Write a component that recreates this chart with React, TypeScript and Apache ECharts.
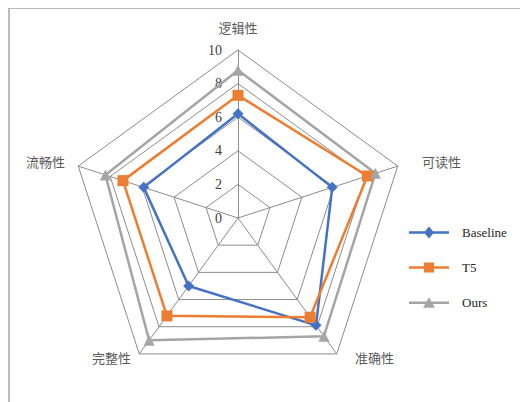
import React, { useEffect, useRef } from "react";
import * as echarts from "echarts";

const indicators = ["逻辑性", "流畅性", "完整性", "准确性", "可读性"];
const tickMax = 10;
const seriesNames = ["Baseline", "T5", "Ours"];
// values ordered like indicators (counterclockwise from top)
const baseline = [6.2, 5.9, 5.0, 7.9, 5.9];
const t5 = [7.3, 7.2, 7.2, 7.3, 8.1];
const ours = [8.8, 8.3, 9.0, 8.7, 8.6];

const colors = ["#4472C4", "#ED7D31", "#A5A5A5"];
const symbols = ["diamond", "rect", "triangle"];
const legendIcons = [
  "path://M0 4.75H40V7.25H0Z M20 0L25 6L20 12L15 6Z",
  "path://M0 4.75H40V7.25H0Z M15 1H25V11H15Z",
  "path://M0 4.75H40V7.25H0Z M20 0.5L26 11H14Z",
];

const nameTweaks = [
  { nameGap: 16 },
  { nameGap: 14 },
  { nameGap: 4, nameTextStyle: { padding: [0, 6, 0, 0] } },
  { nameGap: 4, nameTextStyle: { padding: [0, 0, 0, 16] } },
  { nameGap: 14, nameTextStyle: { padding: [0, 0, 0, 11] } },
];

export default function App() {
  const ref = useRef<HTMLDivElement>(null);
  useEffect(() => {
    if (!ref.current) return;
    const chart = echarts.init(ref.current, undefined, { renderer: "svg" });
    const values = [baseline, t5, ours];
    chart.setOption({
      animation: false,
      graphic: [
        {
          type: "rect",
          shape: { x: 1, y: 0, width: 700, height: 700 },
          style: { fill: "none", stroke: "#a6a6a6", lineWidth: 1.5 },
          silent: true,
        },
      ],
      legend: {
        orient: "vertical",
        left: 396,
        top: 213,
        itemWidth: 40,
        itemHeight: 12,
        itemGap: 22,
        data: seriesNames.map((name, i) => ({
          name,
          icon: legendIcons[i],
          itemStyle: { color: colors[i] },
        })),
        textStyle: {
          fontFamily: "Liberation Serif",
          fontSize: 13,
          color: "#262626",
          padding: [0, 0, 0, 8],
        },
      },
      radar: {
        center: [230, 210],
        radius: 168,
        startAngle: 90,
        splitNumber: 5,
        shape: "polygon",
        indicator: indicators.map((name, i) => ({
          name,
          min: 0,
          max: tickMax,
          ...nameTweaks[i],
          ...(i === 0 ? { axisLabel: { show: true } } : {}),
        })),
        axisName: {
          color: "#595959",
          fontFamily: "Noto Sans CJK SC",
          fontSize: 13,
        },
        nameGap: 14,
        axisLine: { lineStyle: { color: "#8c8c8c", width: 1 } },
        splitLine: { lineStyle: { color: "#8c8c8c", width: 1 } },
        splitArea: { show: false },
        axisTick: { show: false },
        axisLabel: {
          show: false,
          margin: 16,
          fontFamily: "Liberation Serif",
          fontSize: 14,
          color: "#404040",
          padding: [5, 0, 0, 0],
        },
      },
      series: [
        {
          type: "radar",
          data: seriesNames.map((name, i) => ({
            name,
            value: values[i],
            symbol: symbols[i],
            symbolSize: 11,
            lineStyle: { color: colors[i], width: 2.5 },
            itemStyle: { color: colors[i] },
          })),
        },
      ],
    });
    return () => chart.dispose();
  }, []);
  return <div ref={ref} style={{ width: 520, height: 394 }} />;
}
